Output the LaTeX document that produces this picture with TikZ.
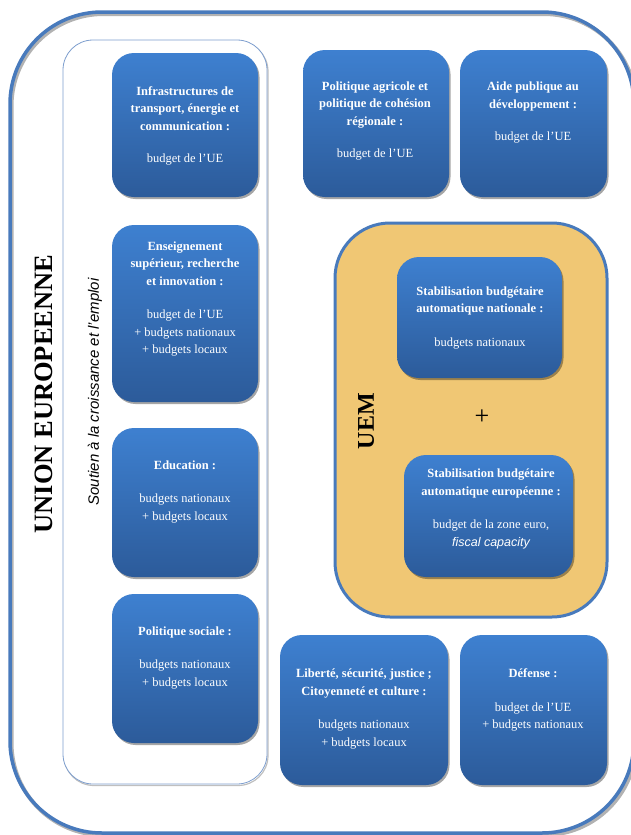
\documentclass[tikz,border=0pt]{standalone}
\usepackage{fontspec}
\setmainfont{Liberation Serif}
\setsansfont{Liberation Sans}
\usetikzlibrary{shadows}
\definecolor{boxtop}{RGB}{62,128,208}
\definecolor{boxbot}{RGB}{44,91,154}
\definecolor{uebord}{RGB}{72,122,188}
\definecolor{uemfill}{RGB}{240,199,116}
\definecolor{panelbord}{RGB}{125,158,206}
\tikzset{
  bbox/.style={rounded corners=22pt, top color=boxtop, bottom color=boxbot, draw=none, inner sep=0pt,
    drop shadow={shadow xshift=1.5pt, shadow yshift=-2pt, fill=black, opacity=0.35}},
  btxt/.style={text=white, align=center, inner sep=0pt, font=\fontsize{12.5}{17.5}\selectfont},
}
\begin{document}
\begin{tikzpicture}[x=1pt,y=-1pt]
\useasboundingbox (0,0) rectangle (631,835);
% outer EU frame
\draw[line width=4pt, black!30, rounded corners=92pt] (11.5,14) rectangle (636,835);
\draw[line width=3.5pt, uebord, rounded corners=92pt] (10,12) rectangle (634,833);
\node[rotate=90, font=\fontsize{26.5}{26.5}\selectfont\bfseries, inner sep=0pt] (ue) at (44,394) {UNION EUROPEENNE};
% growth panel
\draw[line width=1.2pt, black!25, rounded corners=30pt] (64,41.5) rectangle (268,785.5);
\draw[line width=0.8pt, panelbord, fill=white, rounded corners=30pt] (63,40) rectangle (267,784);
\node[rotate=90, font=\sffamily\itshape\fontsize{15}{15}\selectfont, inner sep=0pt] (soutien) at (95,392) {Soutien à la croissance et l’emploi};
% left column boxes
\node[bbox, minimum width=146pt, minimum height=144pt] (infra) at (185,125) {};
\node[btxt] (infraT) at (185,126) {\textbf{Infrastructures de}\\\textbf{transport, énergie et}\\\textbf{communication :}\\[15pt]budget de l’UE};
\node[bbox, minimum width=146pt, minimum height=177pt] (ens) at (185,313.5) {};
\node[btxt] (ensT) at (185,299) {\textbf{Enseignement}\\\textbf{supérieur, recherche}\\\textbf{et innovation :}\\[16pt]budget de l’UE\\+ budgets nationaux\\+ budgets locaux};
\node[bbox, minimum width=146pt, minimum height=149pt] (edu) at (185,502.5) {};
\node[btxt] (eduT) at (185,492) {\textbf{Education :}\\[16pt]budgets nationaux\\+ budgets locaux};
\node[bbox, minimum width=146pt, minimum height=149pt] (soc) at (185,668.5) {};
\node[btxt] (socT) at (185,658) {\textbf{Politique sociale :}\\[16pt]budgets nationaux\\+ budgets locaux};
% top right boxes
\node[bbox, minimum width=146pt, minimum height=147pt] (agri) at (376,123.5) {};
\node[btxt] (agriT) at (375,121) {\textbf{Politique agricole et}\\\textbf{politique de cohésion}\\\textbf{régionale :}\\[15pt]budget de l’UE};
\node[bbox, minimum width=147pt, minimum height=147pt] (aide) at (533.5,123.5) {};
\node[btxt] (aideT) at (533,113) {\textbf{Aide publique au}\\\textbf{développement :}\\[15pt]budget de l’UE};
% UEM
\draw[line width=3pt, uebord, fill=uemfill, rounded corners=55pt] (335,223) rectangle (607,617);
\node[rotate=90, font=\fontsize{24}{24}\selectfont\bfseries, inner sep=0pt] (uem) at (366,421) {UEM};
\node[bbox, minimum width=165pt, minimum height=121pt] (stabN) at (479.5,317.5) {};
\node[btxt] (stabNT) at (480,318) {\textbf{Stabilisation budgétaire}\\\textbf{automatique nationale :}\\[16pt]budgets nationaux};
\node[font=\fontsize{26}{26}\selectfont, inner sep=0pt] (plus) at (482,417) {+};
\node[bbox, minimum width=169pt, minimum height=122pt] (stabE) at (488.5,516) {};
\node[btxt] (stabET) at (491,509) {\textbf{Stabilisation budgétaire}\\\textbf{automatique européenne :}\\[16pt]budget de la zone euro,\\{\sffamily\itshape fiscal capacity}};
% bottom right boxes
\node[bbox, minimum width=168pt, minimum height=150pt] (lib) at (364,710) {};
\node[btxt] (libT) at (364,709) {\textbf{Liberté, sécurité, justice ;}\\\textbf{Citoyenneté et culture :}\\[16pt]budgets nationaux\\+ budgets locaux};
\node[bbox, minimum width=147pt, minimum height=150pt] (def) at (533.5,710) {};
\node[btxt] (defT) at (533,700) {\textbf{Défense :}\\[16pt]budget de l’UE\\+ budgets nationaux};
\end{tikzpicture}
\end{document}
